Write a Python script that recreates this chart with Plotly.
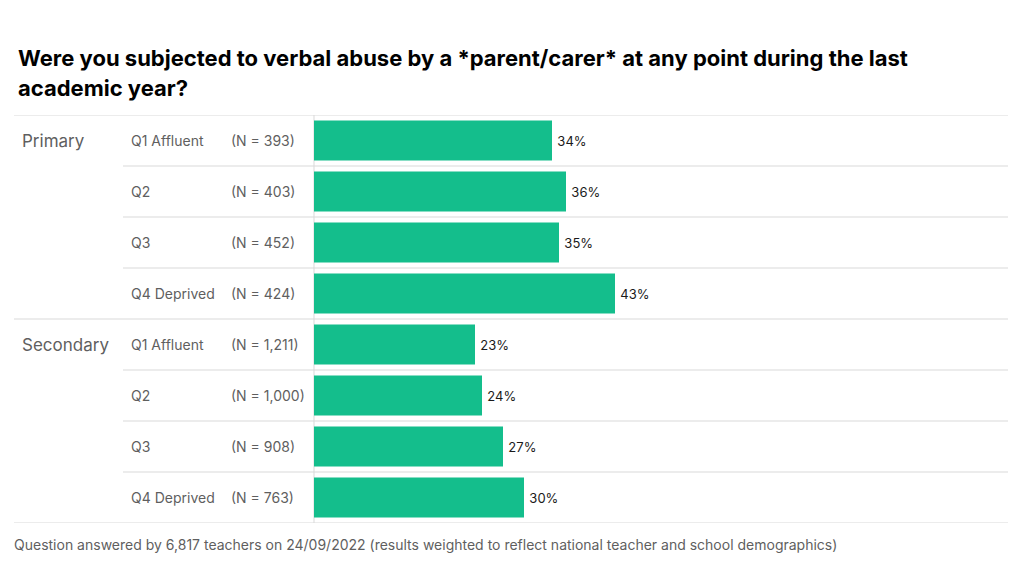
import plotly.graph_objects as go

title_lines = ["Were you subjected to verbal abuse by a *parent/carer* at any point during the last",
               "academic year?"]
groups = ["Primary", "Primary", "Primary", "Primary",
          "Secondary", "Secondary", "Secondary", "Secondary"]
quintiles = ["Q1 Affluent", "Q2", "Q3", "Q4 Deprived",
             "Q1 Affluent", "Q2", "Q3", "Q4 Deprived"]
sample_sizes = ["(N = 393)", "(N = 403)", "(N = 452)", "(N = 424)",
                "(N = 1,211)", "(N = 1,000)", "(N = 908)", "(N = 763)"]
values = [34, 36, 35, 43, 23, 24, 27, 30]
footnote = "Question answered by 6,817 teachers on 24/09/2022 (results weighted to reflect national teacher and school demographics)"

OFF = 8  # page body margin
W, H = 1024 - OFF, 569 - OFF
L, R, T, B = 314 - OFF, 16, 115 - OFF, 46
PW = W - L - R
PH = H - T - B

FONT = "Inter"
BAR = "#14BE8C"
GRID = "#d9d9d9"
GREY = "#5f5f5f"

rows = list(range(len(values)))

fig = go.Figure(go.Bar(
    x=values, y=rows, orientation="h",
    marker=dict(color=BAR, line=dict(width=0)),
    width=0.78,
    text=[f"\u2009{v}%" for v in values], textposition="outside",
    textfont=dict(family=FONT, size=13, color="#1a1a1a"),
    cliponaxis=False, hoverinfo="skip",
))

def px2paper(px):
    return (px - OFF - L) / PW

def py2paper(py):
    return 1 - (py - OFF - T) / PH

shapes = []
annotations = []
n = len(values)
for i in range(n + 1):
    yv = i - 0.5
    is_group_edge = (i == 0 or i == n or (i < n and groups[i] != groups[i - 1]))
    x0 = px2paper(14) if is_group_edge else px2paper(123)
    shapes.append(dict(type="line", xref="paper", yref="y", x0=x0, x1=1,
                       y0=yv, y1=yv, line=dict(color=GRID, width=1), layer="below"))
shapes.append(dict(type="line", xref="paper", yref="y", x0=0, x1=0,
                   y0=-0.5, y1=n - 0.5, line=dict(color=GRID, width=1), layer="below"))

for i in rows:
    if i == 0 or groups[i] != groups[i - 1]:
        annotations.append(dict(text=groups[i], xref="paper", yref="y", x=px2paper(20), y=i,
                                xanchor="left", yanchor="middle", showarrow=False,
                                font=dict(family=FONT, size=17, color=GREY)))
    annotations.append(dict(text=quintiles[i], xref="paper", yref="y", x=px2paper(129), y=i,
                            xanchor="left", yanchor="middle", showarrow=False,
                            font=dict(family=FONT, size=14, color=GREY)))
    annotations.append(dict(text=sample_sizes[i], xref="paper", yref="y", x=px2paper(229), y=i,
                            xanchor="left", yanchor="middle", showarrow=False,
                            font=dict(family=FONT, size=14, color=GREY)))

for j, line in enumerate(title_lines):
    annotations.append(dict(text=f"<b>{line}</b>", xref="paper", yref="paper",
                            x=px2paper(16), y=py2paper(58 + 30 * j),
                            xanchor="left", yanchor="middle", showarrow=False,
                            font=dict(family=FONT, size=22, color="#000000")))

annotations.append(dict(text=footnote, xref="paper", yref="paper",
                        x=px2paper(12), y=py2paper(544),
                        xanchor="left", yanchor="middle", showarrow=False,
                        font=dict(family=FONT, size=14, color=GREY)))

fig.update_layout(
    width=W, height=H,
    margin=dict(l=L, r=R, t=T, b=B, pad=0),
    paper_bgcolor="white", plot_bgcolor="white",
    showlegend=False,
    xaxis=dict(range=[0, PW / 7.0], visible=False, fixedrange=True),
    yaxis=dict(range=[n - 0.5, -0.5], visible=False, fixedrange=True),
    shapes=shapes, annotations=annotations,
)

fig.write_html("out.html")
